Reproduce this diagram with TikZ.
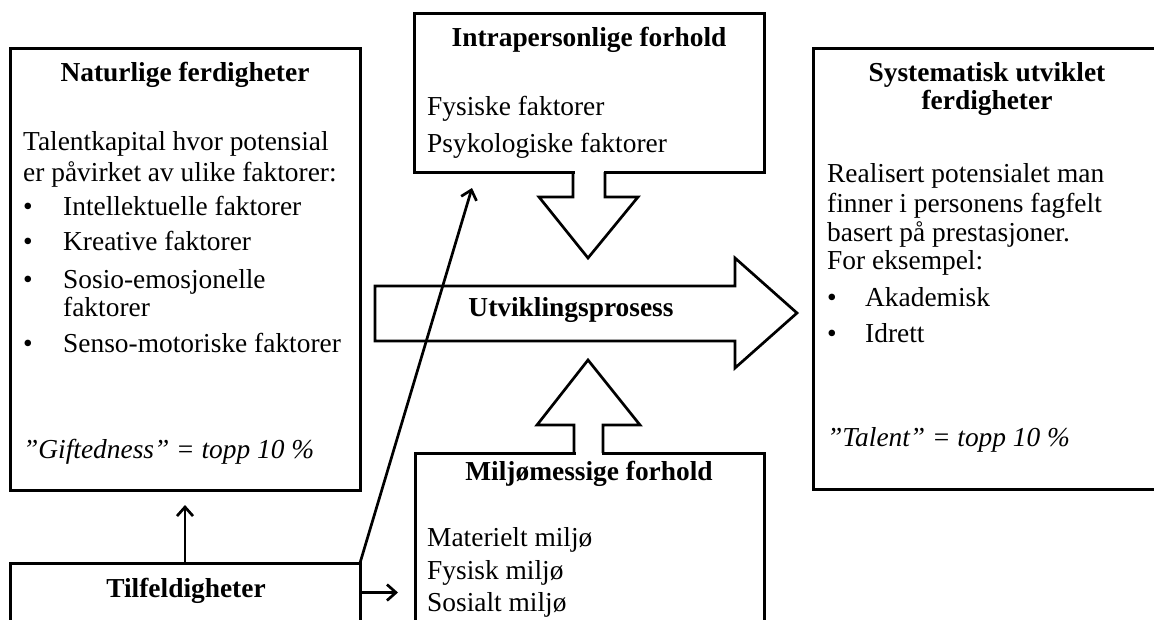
\documentclass[tikz,border=0pt]{standalone}
\usepackage{fontspec}
\setmainfont{Liberation Serif}
\usetikzlibrary{arrows.meta}
\begin{document}
\begin{tikzpicture}[x=1pt,y=-1pt,
  box/.style={draw, line width=3pt, rectangle, inner sep=0pt, outer sep=0pt},
  txt/.style={anchor=base west, inner sep=0pt, font=\fontsize{27.4}{31}\selectfont},
  itx/.style={anchor=base west, inner sep=0pt, font=\fontsize{27.4}{31}\selectfont\itshape},
  ttl/.style={anchor=base, inner sep=0pt, font=\fontsize{27.4}{31}\selectfont\bfseries},
  blk/.style={draw, line width=2.7pt, line join=miter},
  conn/.style={line width=2.7pt, -{Straight Barb[length=9pt,width=16pt]}}]
\useasboundingbox (0,0) rectangle (1154,619);
\clip (0,0) rectangle (1154,619);

% boxes
\node[box, minimum width=350pt, minimum height=442pt] (nat) at (185,269) {};
\node[box, minimum width=350pt, minimum height=159pt] (intra) at (589,92.5) {};
\node[box, minimum width=349pt, minimum height=187pt] (milj) at (589.5,546.5) {};
\node[box, minimum width=349pt, minimum height=441pt] (sys) at (987.5,268.5) {};
\node[box, minimum width=350pt, minimum height=59pt] (tilf) at (185,592.5) {};

% block arrows
\fill[white] (574.5,166) rectangle (603.5,178);
\draw[blk] (573,172) -- (573,197) -- (539,197) -- (588,258) -- (638,197) -- (605,197) -- (605,172);
\fill[white] (575.5,447) rectangle (601.5,459);
\draw[blk] (574,453) -- (574,425) -- (537,425) -- (588,360) -- (640,425) -- (603,425) -- (603,453);
\draw[blk] (375,286) -- (735,286) -- (735,258) -- (797,313) -- (735,368) -- (735,341) -- (375,341) -- cycle;
\node[ttl] (utv) at (571,316) {Utviklingsprosess};

% left box text
\node[ttl] (natT) at (185,81) {Naturlige ferdigheter};
\node[txt] (n1) at (23,150) {Talentkapital hvor potensial};
\node[txt] (n2) at (23,181) {er påvirket av ulike faktorer:};
\node[txt] (b1) at (23,215) {•};
\node[txt] (n3) at (63,215) {Intellektuelle faktorer};
\node[txt] (b2) at (23,250) {•};
\node[txt] (n4) at (63,250) {Kreative faktorer};
\node[txt] (b3) at (23,288) {•};
\node[txt] (n5) at (63,288) {Sosio-emosjonelle};
\node[txt] (n6) at (63,316) {faktorer};
\node[txt] (b4) at (23,352) {•};
\node[txt] (n7) at (63,352) {Senso-motoriske faktorer};
\node[itx] (n8) at (23,458) {”Giftedness” = topp 10 \%};

% intrapersonlige
\node[ttl] (intraT) at (589,46) {Intrapersonlige forhold};
\node[txt] (i1) at (427,115) {Fysiske faktorer};
\node[txt] (i2) at (427,152) {Psykologiske faktorer};

% miljø
\node[ttl] (miljT) at (589,480) {Miljømessige forhold};
\node[txt] (m1) at (427,546) {Materielt miljø};
\node[txt] (m2) at (427,579) {Fysisk miljø};
\node[txt] (m3) at (427,611) {Sosialt miljø};

% right box
\node[ttl] (sysT1) at (987,81) {Systematisk utviklet};
\node[ttl] (sysT2) at (987,109) {ferdigheter};
\node[txt] (s1) at (827,182) {Realisert potensialet man};
\node[txt] (s2) at (827,212) {finner i personens fagfelt};
\node[txt] (s3) at (827,241) {basert på prestasjoner.};
\node[txt] (s4) at (827,269) {For eksempel:};
\node[txt] (sb1) at (827,306) {•};
\node[txt] (s5) at (865,306) {Akademisk};
\node[txt] (sb2) at (827,342) {•};
\node[txt] (s6) at (865,342) {Idrett};
\node[itx] (s7) at (827,446) {”Talent” = topp 10 \%};

% tilfeldigheter
\node[ttl] (tilfT) at (186,597) {Tilfeldigheter};

% connectors
\coordinate (c1) at (472,188);
\draw[conn] (tilf.north east) -- (c1);
\draw[conn, shorten >=15pt] (tilf.north) -- (nat.south);
\draw[conn, shorten >=17pt] (tilf.east) -- (tilf.east -| milj.west);
\end{tikzpicture}
\end{document}
